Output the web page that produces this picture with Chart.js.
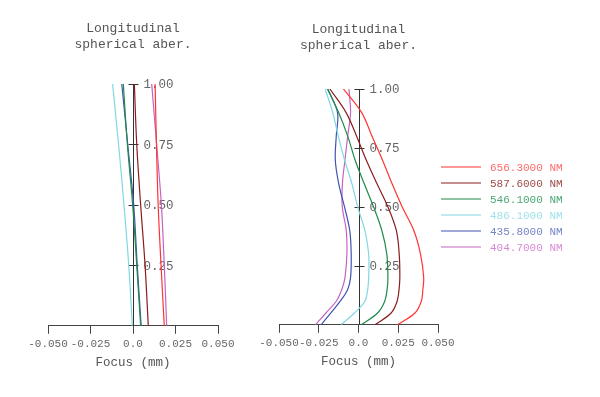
<!DOCTYPE html>
<html>
<head>
<meta charset="utf-8">
<script src="https://cdn.jsdelivr.net/npm/chart.js@4.4.1/dist/chart.umd.min.js"></script>
<style>
  html, body { margin: 0; padding: 0; background: #fff; }
  #wrap { position: relative; width: 600px; height: 397px; }
  #wrap canvas { position: absolute; left: 0; top: 0; }
</style>
</head>
<body>
<div id="wrap">
  <canvas id="leftChart" width="600" height="397"></canvas>
  <canvas id="rightChart" width="600" height="397"></canvas>
</div>
<script>
// wavelengths (legend) and colours
const wavelengths = ['656.3000 NM', '587.6000 NM', '546.1000 NM', '486.1000 NM', '435.8000 NM', '404.7000 NM'];
const lineColors = ['#ff3333', '#8b1c1c', '#1f8a4a', '#80d8e2', '#4152b3', '#c464c0'];
const textColors = ['#ff6a6a', '#a04a4a', '#4aa874', '#9fe2ea', '#7584c8', '#d88ad4'];

const xTicks = [-0.05, -0.025, 0, 0.025, 0.05];
const yTicks = [0.25, 0.5, 0.75, 1.0];

// left panel: normalized pupil height -> focus (mm)
const pupilLeft = [0, 0.25, 0.5, 0.75, 1.0];
const left656 = [0.0184, 0.0165, 0.0148, 0.0138, 0.0130];
const left587 = [0.0090, 0.0071, 0.0045, 0.0022, 0.0008];
const left546 = [0.0045, 0.0022, -0.0002, -0.0033, -0.0057];
const left486 = [-0.0004, -0.0025, -0.0053, -0.0085, -0.0120];
const left435 = [0.0048, 0.0025, 0.0004, -0.0031, -0.0066];
const left404 = [0.0198, 0.0184, 0.0167, 0.0139, 0.0110];

// right panel
const pupilRight = [0, 0.05, 0.1, 0.15, 0.2, 0.3, 0.4, 0.5, 0.6, 0.7, 0.8, 0.9, 1.0];
const right656 = [0.0245, 0.0355, 0.0395, 0.0405, 0.0410, 0.0390, 0.0348, 0.0275, 0.0210, 0.0150, 0.0085, 0.0020, -0.0095];
const right587 = [0.0104, 0.0205, 0.0243, 0.0255, 0.0260, 0.0256, 0.0238, 0.0185, 0.0115, 0.0048, -0.0012, -0.0078, -0.0180];
const right546 = [0.0017, 0.0120, 0.0165, 0.0180, 0.0185, 0.0178, 0.0147, 0.0095, 0.0035, -0.0022, -0.0068, -0.0125, -0.0195];
const right486 = [-0.0110, -0.0025, 0.0040, 0.0058, 0.0064, 0.0064, 0.0040, -0.0005, -0.0042, -0.0088, -0.0127, -0.0162, -0.0210];
const right435 = [-0.0235, -0.0175, -0.0115, -0.0068, -0.0050, -0.0046, -0.0055, -0.0088, -0.0125, -0.0146, -0.0140, -0.0132, -0.0193];
const right404 = [-0.0271, -0.0205, -0.0140, -0.0105, -0.0085, -0.0073, -0.0077, -0.0102, -0.0101, -0.0085, -0.0068, -0.0050, -0.0060];

const FONT = "'Courier New', 'Liberation Mono', monospace";

// vertical axis drawn through focus = 0
const centerAxis = {
    id: 'centerAxis',
    beforeDatasetsDraw(chart) {
        const ctx = chart.ctx;
        const x = chart.scales.x, y = chart.scales.y;
        const x0 = Math.round(x.getPixelForValue(0)) + 0.5;
        ctx.save();
        ctx.strokeStyle = '#333';
        ctx.lineWidth = 1;
        ctx.beginPath();
        ctx.moveTo(x0, y.getPixelForValue(0));
        ctx.lineTo(x0, y.getPixelForValue(1));
        yTicks.forEach(v => {
            const py = Math.round(y.getPixelForValue(v)) + 0.5;
            ctx.moveTo(x0 - 5, py);
            ctx.lineTo(x0 + 5, py);
        });
        ctx.stroke();
        ctx.fillStyle = '#666';
        ctx.font = '12.5px ' + FONT;
        ctx.textAlign = 'left';
        ctx.textBaseline = 'middle';
        yTicks.forEach(v => {
            ctx.fillText(v.toFixed(2), x0 + 10, y.getPixelForValue(v) + 1);
        });
        ctx.restore();
    }
};

// legend at the right side
const sideLegend = {
    id: 'sideLegend',
    afterDraw(chart) {
        const ctx = chart.ctx;
        ctx.save();
        ctx.font = '11px ' + FONT;
        ctx.textAlign = 'left';
        ctx.textBaseline = 'middle';
        wavelengths.forEach((name, i) => {
            const py = 167 + i * 16;
            ctx.strokeStyle = lineColors[i];
            ctx.lineWidth = 1.2;
            ctx.beginPath();
            ctx.moveTo(441, py);
            ctx.lineTo(481, py);
            ctx.stroke();
            ctx.fillStyle = textColors[i];
            ctx.fillText(name, 490, py + 1);
        });
        ctx.restore();
    }
};

function makePanel(id, pupil, series, pad, titlePad, extraPlugins) {
    const ctx = document.getElementById(id).getContext('2d');
    return new Chart(ctx, {
        type: 'line',
        data: {
            datasets: series.map((vals, i) => ({
                label: wavelengths[i],
                data: vals.map((v, k) => ({ x: v, y: pupil[k] })),
                borderColor: lineColors[i],
                borderWidth: 1.2,
                pointRadius: 0,
                fill: false,
                tension: 0.35
            }))
        },
        options: {
            responsive: false,
            animation: false,
            layout: { padding: pad },
            scales: {
                x: {
                    type: 'linear',
                    min: -0.05,
                    max: 0.05,
                    afterBuildTicks: s => { s.ticks = xTicks.map(v => ({ value: v })); },
                    grid: { drawOnChartArea: false, drawTicks: true, tickLength: 8, color: '#444' },
                    border: { display: true, color: '#444' },
                    ticks: {
                        autoSkip: false,
                        maxRotation: 0,
                        padding: 4,
                        color: '#666',
                        font: { family: FONT, size: 11 },
                        callback: v => Math.abs(v) < 1e-9 ? '0.0' : v.toFixed(3)
                    },
                    title: {
                        display: true,
                        text: 'Focus (mm)',
                        color: '#555',
                        font: { family: FONT, size: 12.5 },
                        padding: { top: 0, bottom: 0 }
                    }
                },
                y: { type: 'linear', min: 0, max: 1, display: false }
            },
            plugins: {
                legend: { display: false },
                tooltip: { enabled: false },
                title: {
                    display: true,
                    text: ['Longitudinal', 'spherical aber.'],
                    color: '#555',
                    font: { family: FONT, size: 13, weight: 'normal', lineHeight: '16px' },
                    padding: titlePad
                }
            }
        },
        plugins: [centerAxis].concat(extraPlugins)
    });
}

makePanel('leftChart', pupilLeft,
    [left656, left587, left546, left486, left435, left404],
    { left: 48, right: 382, top: 0, bottom: 27 },
    { top: 20.5, bottom: 31.5 }, []);

makePanel('rightChart', pupilRight,
    [right656, right587, right546, right486, right435, right404],
    { left: 279, right: 162, top: 0, bottom: 28 },
    { top: 21.3, bottom: 35.7 }, [sideLegend]);
</script>
</body>
</html>
